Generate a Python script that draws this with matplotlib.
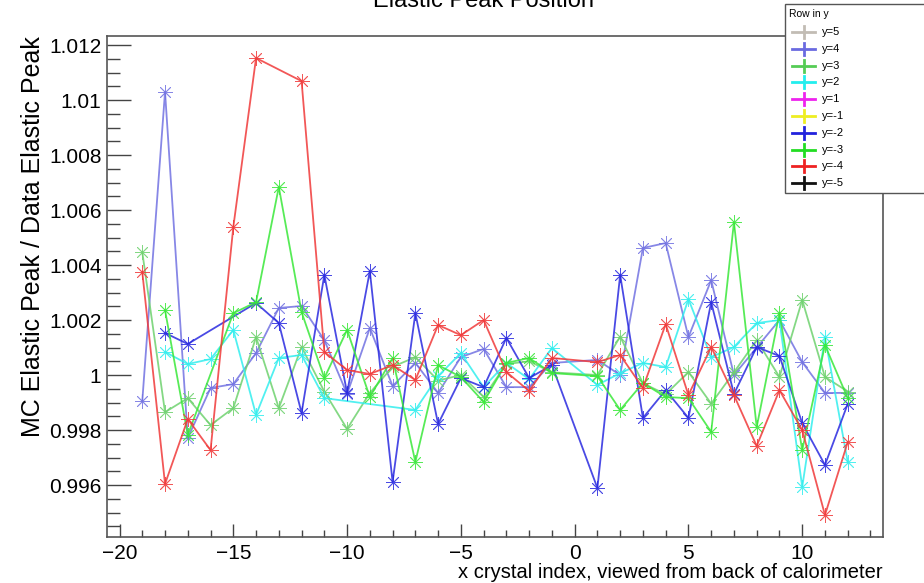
import matplotlib
matplotlib.use("Agg")
import matplotlib.pyplot as plt
from matplotlib.lines import Line2D
from matplotlib.patches import Rectangle
from matplotlib.ticker import FixedLocator, FuncFormatter
import numpy as np

# crystal index along x (no crystal 0)
XIDX = list(range(-19, 0)) + list(range(1, 13))

# MC/Data elastic peak ratio per row, None = no point
ROW_P4 = [0.99905, 1.0103, 0.99771, 0.99953, 0.99967, 1.0008, 1.00244, 1.00251, 1.00127, 0.99931,
          1.00171, 0.9996, 1.00044, 0.99935, 1.00065, 1.00095, 0.99956, 0.99956, 1.00044,
          1.00055, 1.0, 1.00462, 1.0048, 1.00138, 1.00345, 1.0, 1.001, 1.002, 1.00047, 0.99935, 0.99935]
ROW_P3 = [1.00447, 0.99865, 0.99916, 0.99818, 0.9988, 1.00138, 0.9988, 1.00102, 0.9994, 0.99804,
          0.99935, 1.0003, 1.00065, 0.9998, 1.0, 0.9992, 1.0004, 1.0005, 1.0001,
          1.0, 1.0014, 0.9997, 0.9993, 1.00011, 0.99896, 1.0001, 1.00127, 0.99993, 1.00273, 0.99993, 0.9994]
ROW_P2 = [None, 1.00084, 1.0004, 1.00058, 1.00164, 0.99855, 1.00062, 1.00073, 0.99916, None,
          None, None, 0.99873, 0.99996, 1.0008, 0.99956, 1.00044, 0.99985, 1.00098,
          0.99964, 1.00007, 1.00044, 1.00029, 1.00276, 1.00065, 1.00102, 1.00189, 1.002, 0.99593, 1.00138, 0.99684]
ROW_M2 = [None, 1.00153, 1.00113, None, None, 1.00262, 1.00189, 0.99862, 1.00364, 0.99935,
          1.00378, 0.99611, 1.00225, 0.99822, 0.99989, 0.99956, 1.00135, 0.99989, 1.00036,
          0.99589, 1.00364, 0.99844, 0.99945, 0.99844, 1.00265, 0.99931, 1.00102, 1.00069, 0.99825, 0.99673, 0.99895]
ROW_M3 = [None, 1.00236, 0.99782, None, 1.00225, 1.00265, 1.00684, 1.00229, 0.99989, 1.00164,
          0.9992, 1.00062, 0.99684, 1.00036, 0.99993, 0.99902, 1.00044, 1.00062, 1.00007,
          0.99996, 0.99873, 0.99971, 0.9992, 0.99916, 0.99793, 1.00556, 0.99811, 1.00225, 0.99727, 1.00109, 0.99916]
ROW_M4 = [1.00375, 0.99604, 0.9984, 0.99727, 1.00538, 1.01153, None, 1.01069, 1.00084, 1.00018,
          1.00004, 1.00036, 0.99982, 1.00182, 1.00145, 1.002, 1.00011, 0.99942, 1.00062,
          1.00047, 1.00073, 0.99953, 1.00185, 0.99927, 1.00102, 0.99927, 0.99742, 0.99945, 0.998, 0.99491, 0.99756]

LEG_LABELS = ["y=5", "y=4", "y=3", "y=2", "y=1", "y=-1", "y=-2", "y=-3", "y=-4", "y=-5"]
LEG_COLORS = ["#c2bcb4", "#6a6ae0", "#55cc55", "#22eeee", "#ee22ee",
              "#eeee22", "#2222dd", "#22dd22", "#ee2222", "#111111"]

W, H = 924, 583


def fx(px):
    return px / W


def fy(py):
    return 1 - py / H


def draw_row(ax, vals, color):
    x = np.array(XIDX, dtype=float)
    y = np.array([np.nan if v is None else v for v in vals], dtype=float)
    m = np.isfinite(y)
    ax.plot(x[m], y[m], color=color, lw=1.3, marker=(8, 2, 0), ms=10.5, mew=0.6,
            alpha=0.85, zorder=3)


plt.rcParams.update({"font.family": "Liberation Sans"})
fig = plt.figure(figsize=(W / 100, H / 100), dpi=100)
ax = fig.add_axes([fx(107), fy(537), fx(883) - fx(107), fy(36) - fy(537)])

draw_row(ax, ROW_P4, "#7272e2")
draw_row(ax, ROW_P3, "#6fd26f")
draw_row(ax, ROW_P2, "#33eeee")
draw_row(ax, ROW_M2, "#2a2ae0")
draw_row(ax, ROW_M3, "#3ae83a")
draw_row(ax, ROW_M4, "#f03a3a")

ax.set_xlim(-20.55, 13.55)
ax.set_ylim(0.99411, 1.01233)

ax.xaxis.set_major_locator(FixedLocator([-20, -15, -10, -5, 0, 5, 10]))
ax.xaxis.set_minor_locator(FixedLocator(np.arange(-20, 14, 1)))
yt = np.round(np.arange(0.996, 1.0121, 0.002), 3)
ax.yaxis.set_major_locator(FixedLocator(yt))
ax.yaxis.set_minor_locator(FixedLocator(np.round(np.arange(0.9945, 1.0121, 0.0005), 4)))
ax.yaxis.set_major_formatter(FuncFormatter(lambda v, p: f"{v:g}"))

ax.tick_params(axis="x", which="major", direction="in", length=9.5, width=1.0,
               color="#444444", labelsize=15, pad=5)
ax.tick_params(axis="x", which="minor", direction="in", length=5, width=1.0, color="#444444")
ax.tick_params(axis="y", which="major", direction="in", length=17, width=1.0,
               color="#444444", labelsize=15, pad=4)
ax.tick_params(axis="y", which="minor", direction="in", length=9, width=1.0, color="#444444")
for s in ax.spines.values():
    s.set_color("#555555")
    s.set_linewidth(1.2)

ax.set_xlabel("x crystal index, viewed from back of calorimeter", fontsize=14.5,
              loc="right", labelpad=0)
ax.set_ylabel("MC Elastic Peak / Data Elastic Peak", fontsize=18, loc="top", labelpad=3)

fig.text(0.523, fy(7), "Elastic Peak Position", ha="center", va="baseline", fontsize=17)

# legend box, drawn by hand (runs off the right edge like the original)
fig.add_artist(Rectangle((fx(785), fy(193)), fx(150), fy(4) - fy(193),
                         transform=fig.transFigure, facecolor="white",
                         edgecolor="#555555", lw=1.0, zorder=10))
fig.text(fx(789), fy(14), "Row in y", ha="left", va="center", fontsize=7.5, zorder=11)
for i, (lab, col) in enumerate(zip(LEG_LABELS, LEG_COLORS)):
    yc = 32 + i * 16.8
    fig.add_artist(Line2D([fx(792), fx(815)], [fy(yc), fy(yc)], transform=fig.transFigure,
                          color=col, lw=2, zorder=11))
    fig.add_artist(Line2D([fx(803.5), fx(803.5)], [fy(yc - 6), fy(yc + 6)],
                          transform=fig.transFigure, color=col, lw=2, zorder=11))
    fig.text(fx(822), fy(yc), lab, ha="left", va="center", fontsize=8, zorder=11)

fig.savefig("out.png", dpi=100)
